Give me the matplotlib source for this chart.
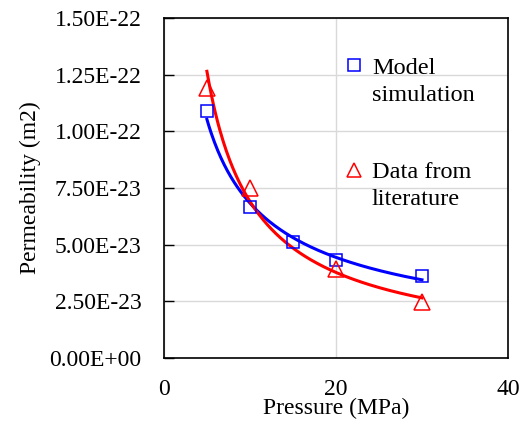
import matplotlib.pyplot as plt
import numpy as np
from matplotlib.lines import Line2D
from matplotlib.ticker import FuncFormatter

plt.rcParams['font.family'] = ['Liberation Serif', 'DejaVu Serif']

# Data
pressure_model = [5, 10, 15, 20, 30]
perm_model = [1.09e-22, 6.65e-23, 5.12e-23, 4.33e-23, 3.62e-23]
pressure_lit = [5, 10, 20, 30]
perm_lit = [1.19e-22, 7.50e-23, 3.93e-23, 2.48e-23]

x_ticks = [0, 20, 40]
y_ticks = [0, 2.5e-23, 5.0e-23, 7.5e-23, 1.0e-22, 1.25e-22, 1.5e-22]

BLUE = '#0000FF'
RED = '#FF0000'


def power_fit(x, y, n=200):
    """ Excel-style power trendline (linear fit in log-log space)."""
    x = np.asarray(x, dtype=float)
    y = np.asarray(y, dtype=float)
    b, a = np.polyfit(np.log(x), np.log(y), 1)
    xs = np.linspace(x.min(), x.max(), n)
    return xs, np.exp(a) * xs ** b


fig = plt.figure(figsize=(5.27, 4.25), dpi=100)
ax = fig.add_axes([0.311, 0.158, 0.653, 0.800])

# trendlines
xs, ys = power_fit(pressure_model, perm_model)
ax.plot(xs, ys, color=BLUE, lw=2.2, zorder=3)
xs, ys = power_fit(pressure_lit, perm_lit)
ax.plot(xs, ys, color=RED, lw=2.2, zorder=3)

# markers
ax.plot(pressure_model, perm_model, ls='none', marker='s', ms=9, mfc='none',
        mec=BLUE, mew=1.1, zorder=4)
ax.plot(pressure_lit, perm_lit, ls='none', marker='^', ms=11, mfc='none',
        mec=RED, mew=1.1, zorder=4)

ax.set_xlim(x_ticks[0], x_ticks[-1])
ax.set_ylim(y_ticks[0], y_ticks[-1])
ax.set_xticks(x_ticks)
ax.set_yticks(y_ticks)
ax.yaxis.set_major_formatter(FuncFormatter(lambda v, p: f'{v:.2E}'))

ax.grid(True, color='#d9d9d9', lw=1.0, zorder=0)
ax.set_axisbelow(True)
for s in ax.spines.values():
    s.set_color('black')
    s.set_linewidth(1.2)

ax.tick_params(axis='y', direction='in', length=7, width=1.0, labelsize=17, pad=16)
ax.tick_params(axis='x', length=0, labelsize=17, pad=15)

ax.set_xlabel('Pressure (MPa)', fontsize=17, labelpad=-1)
ax.set_ylabel('Permeability (m2)', fontsize=17, labelpad=6)

# legend: marker next to the first line of each label
blank = Line2D([], [], ls='none')
sq = Line2D([], [], ls='none', marker='s', ms=8, mfc='none', mec=BLUE, mew=1.1)
tri = Line2D([], [], ls='none', marker='^', ms=10, mfc='none', mec=RED, mew=1.1)
leg_kw = dict(frameon=False, fontsize=17.5, loc='upper left', borderpad=0,
              borderaxespad=0, handlelength=0.9, handletextpad=0.3,
              labelspacing=0.2)
leg1 = ax.legend([sq, blank], ['Model', 'simulation'],
                 bbox_to_anchor=(0.52, 0.885), **leg_kw)
ax.add_artist(leg1)
ax.legend([tri, blank], ['Data from', 'literature'],
          bbox_to_anchor=(0.52, 0.578), **leg_kw)

fig.savefig('out.png', dpi=100)
